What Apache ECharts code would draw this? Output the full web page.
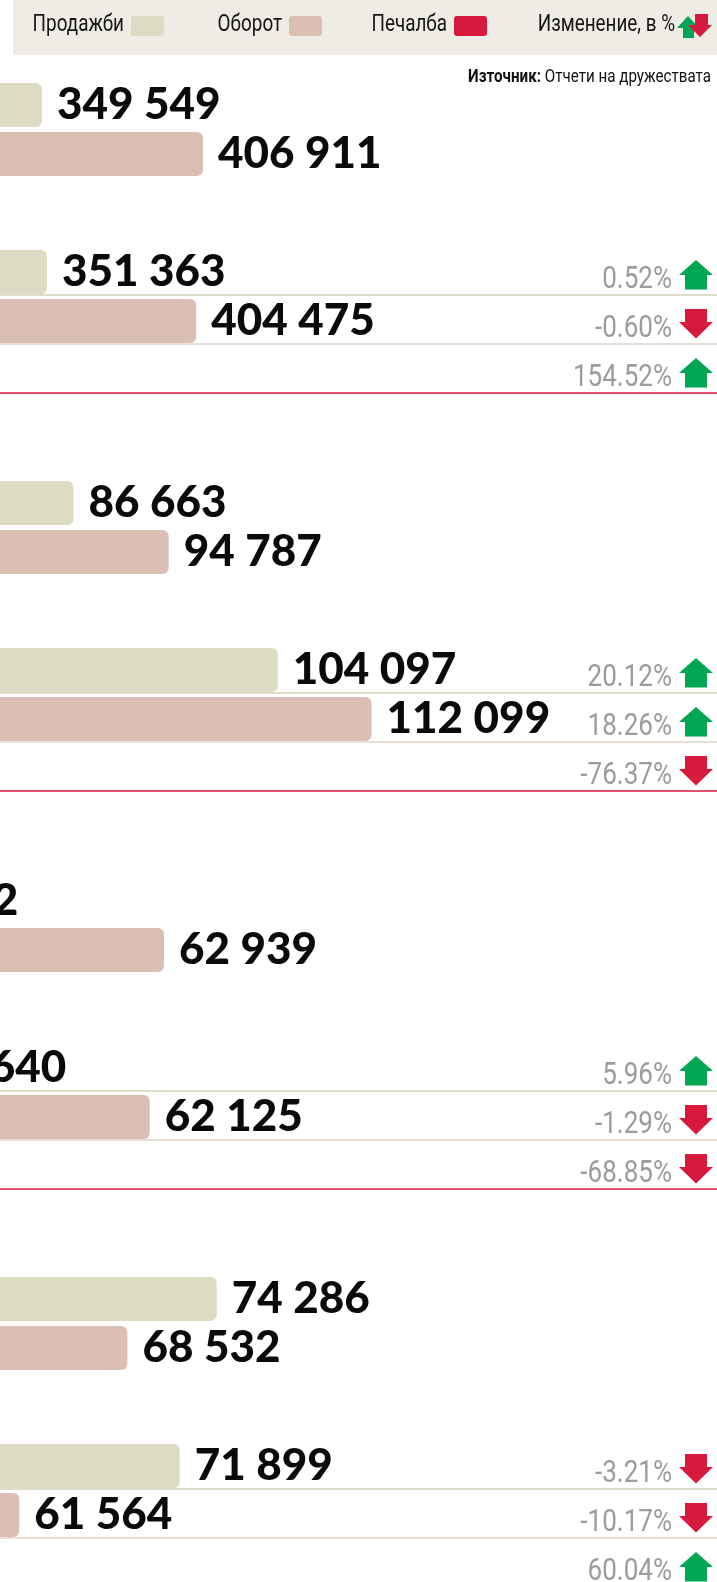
<!DOCTYPE html>
<html><head><meta charset="utf-8">
<script src="https://cdn.jsdelivr.net/npm/echarts@6/dist/echarts.min.js"></script>
<style>html,body{margin:0;padding:0;background:#fff}#c{width:717px;height:1582px}</style>
</head><body><div id="c"></div>
<script>
// ---------- data ----------
const rowNames = ['Продажби', 'Оборот', 'Печалба'];
const sales1 = [349549, 86663, 45902, 74286];
const turnover1 = [406911, 94787, 62939, 68532];
const sales2 = [351363, 104097, 48640, 71899];
const turnover2 = [404475, 112099, 62125, 61564];
const salesChange = [0.52, 20.12, 5.96, -3.21];
const turnoverChange = [-0.60, 18.26, -1.29, -10.17];
const profitChange = [154.52, -76.37, -68.85, 60.04];
const legendNames = ['Продажби', 'Оборот', 'Печалба', 'Изменение, в %'];
const sourceLabel = 'Източник:';
const sourceText = 'Отчети на дружествата';

// ---------- layout / style ----------
const W = 717;
const ORIGIN = [-940, -942, -940, -936];        // pixel of value 0 for each block (off canvas)
const SCALE = [0.002809, 0.011718, 0.017541, 0.015517]; // px per unit per block
const Y0 = 105, BLOCK_STEP = 398, YEAR_STEP = 167, ROW_H = 49, BAR_W = 44;
const C_SALES = '#dddbc3', C_TURN = '#dbbfb4', C_PROFIT = '#d8193e', C_UP = '#00a651', C_DOWN = '#d8193e';
const LINE_COLORS = ['#e1ddc9', '#e6d2ca', '#d8193e'];
const COND = "Roboto,'Liberation Sans',sans-serif";
const BIG = "Lato,'Liberation Sans',sans-serif";
const SQUEEZE = 0.82;

const fmt = v => String(v).replace(/\B(?=(\d{3})+(?!\d))/g, ' ');

function arrowPoints(x, y, up) {
  const t = y - 12, b = y + 17.5, w = 34, sw = 6;
  if (up) {
    const hb = t + 15;
    return [[x + w / 2, t], [x + w, hb], [x + w - sw, hb], [x + w - sw, b], [x + sw, b], [x + sw, hb], [x, hb]];
  }
  const hb = t + 13;
  return [[x + sw, t], [x + w - sw, t], [x + w - sw, hb], [x + w, hb], [x + w / 2, b], [x, hb], [x + sw, hb]];
}

function renderChange(params, api) {
  const y = api.coord([api.value(0), api.value(1)])[1];
  const pct = api.value(2);
  const row = params.dataIndex;
  const cs = params.coordSys;
  const right = cs.x + cs.width;
  const ax = right - 38;
  const up = pct >= 0;
  return {
    type: 'group',
    children: [
      { type: 'line', shape: { x1: cs.x, y1: y + 23, x2: right, y2: y + 23 },
        style: { stroke: LINE_COLORS[row], lineWidth: row === 0 ? 2 : 1.5 } },
      { type: 'text', x: ax - 7, y: y + 8, scaleX: 0.84,
        style: { x: 0, y: 0, text: pct.toFixed(2) + '%', align: 'right', verticalAlign: 'middle',
          fill: '#9c9c9e', font: '400 31px ' + COND } },
      { type: 'polygon', shape: { points: arrowPoints(ax, y, up) }, style: { fill: up ? C_UP : C_DOWN } }
    ]
  };
}

const grids = [], xAxes = [], yAxes = [], series = [];
let gi = 0;
for (let k = 0; k < 4; k++) {
  const years = [[sales1[k], turnover1[k]], [sales2[k], turnover2[k]]];
  const changes = [salesChange[k], turnoverChange[k], profitChange[k]];
  for (let yr = 0; yr < 2; yr++) {
    const center = Y0 + BLOCK_STEP * k + YEAR_STEP * yr;
    grids.push({ left: 0, width: W, top: center - ROW_H / 2, height: ROW_H * 3, outerBoundsMode: 'none', containLabel: false });
    xAxes.push({ gridIndex: gi, type: 'value', min: -ORIGIN[k] / SCALE[k], max: (W - ORIGIN[k]) / SCALE[k], show: false });
    yAxes.push({ gridIndex: gi, type: 'category', data: rowNames, inverse: true, show: false });
    const lbl = { show: true, position: 'right', distance: 15, formatter: p => fmt(p.value),
      fontFamily: BIG, fontWeight: 900, fontSize: 44, color: '#0a0a0a' };
    series.push({ type: 'bar', name: rowNames[0], xAxisIndex: gi, yAxisIndex: gi, clip: false,
      data: [years[yr][0], '-', '-'], barWidth: BAR_W, barGap: '-100%',
      itemStyle: { color: C_SALES, borderRadius: [0, 6, 6, 0] }, label: lbl, z: 3 });
    series.push({ type: 'bar', name: rowNames[1], xAxisIndex: gi, yAxisIndex: gi, clip: false,
      data: ['-', years[yr][1], '-'], barWidth: BAR_W, barGap: '-100%',
      itemStyle: { color: C_TURN, borderRadius: [0, 6, 6, 0] }, label: lbl, z: 3 });
    if (yr === 1) {
      series.push({ type: 'custom', xAxisIndex: gi, yAxisIndex: gi, clip: false, z: 2,
        data: changes.map((c, i) => [0, i, c]), renderItem: renderChange });
    }
    gi++;
  }
}

// legend (custom graphic)
const swX = [131, 289, 454];
const swC = [C_SALES, C_TURN, C_PROFIT];
const graphic = [
  { type: 'rect', shape: { x: 13, y: 0, width: W - 13, height: 55 }, style: { fill: '#efece5' }, z: 0 }
];
const legText = (x, t) => ({ type: 'text', x: x, y: 25, scaleX: SQUEEZE, z: 1,
  style: { x: 0, y: 0, text: t, align: 'right', verticalAlign: 'middle', fill: '#151515', font: '23px ' + COND } });
for (let i = 0; i < 3; i++) {
  graphic.push(legText(swX[i] - 7, legendNames[i]));
  graphic.push({ type: 'rect', shape: { x: swX[i], y: 16, width: 33, height: 20, r: 3 }, style: { fill: swC[i] }, z: 1 });
}
graphic.push(legText(675, legendNames[3]));
// legend icon: green up arrow behind red down arrow
graphic.push({ type: 'polygon', shape: { points: [[688, 16], [699, 28], [694, 28], [694, 38], [683, 38], [683, 28], [677, 28]] }, style: { fill: C_UP }, z: 1 });
graphic.push({ type: 'polygon', shape: { points: [[695, 14], [708, 14], [708, 25], [712, 25], [700, 37], [688, 25], [695, 25]] }, style: { fill: C_DOWN }, z: 2 });
// source
graphic.push({ type: 'text', x: 711, y: 77, scaleX: SQUEEZE, z: 1,
  style: { x: 0, y: 0, text: '{b|' + sourceLabel + '} ' + sourceText, align: 'right', verticalAlign: 'middle',
    fill: '#111', font: '18.5px ' + COND, rich: { b: { fontWeight: 'bold', fontFamily: COND, fontSize: 18.5, fill: '#111' } } } });

const chart = echarts.init(document.getElementById('c'), null, { renderer: 'canvas' });
chart.setOption({
  animation: false,
  backgroundColor: '#ffffff',
  grid: grids, xAxis: xAxes, yAxis: yAxes, series: series, graphic: graphic
});
</script></body></html>
